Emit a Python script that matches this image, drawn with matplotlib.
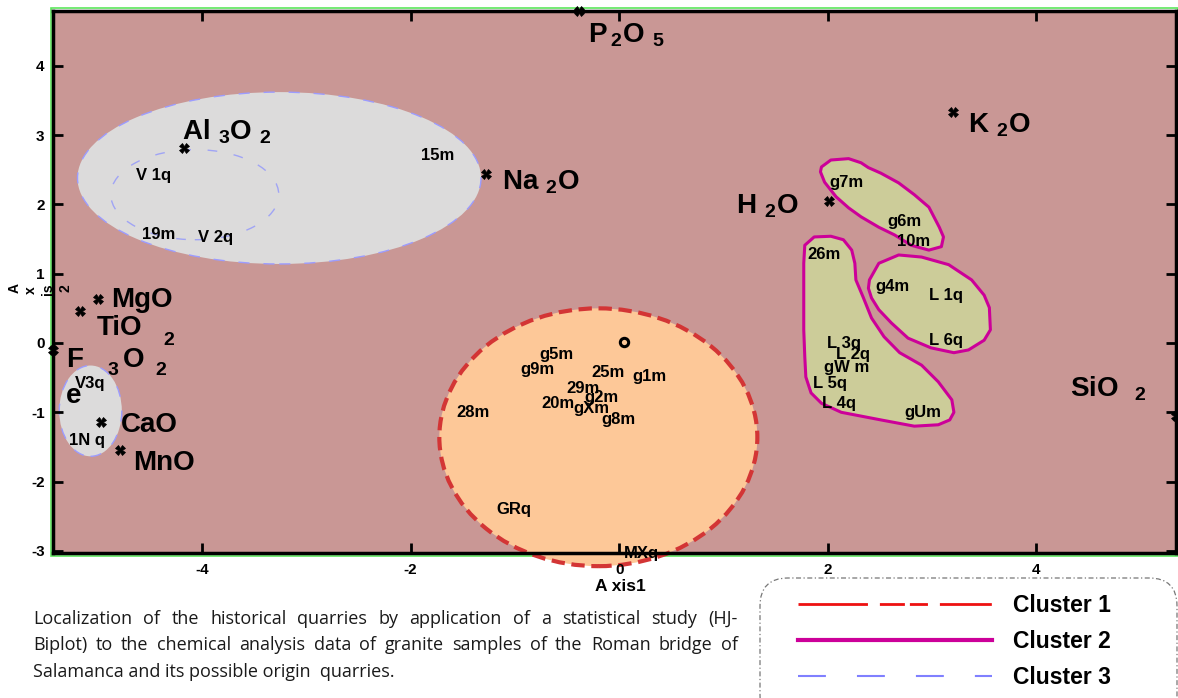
import matplotlib
matplotlib.use("Agg")
import matplotlib.pyplot as plt
from matplotlib.patches import Ellipse, Polygon, FancyBboxPatch, Rectangle
from matplotlib.lines import Line2D

plt.rcParams['font.family'] = ['Liberation Sans', 'DejaVu Sans']
plt.rcParams['axes.unicode_minus'] = False
plt.rcParams['mathtext.fontset'] = 'custom'
plt.rcParams['mathtext.rm'] = 'Liberation Sans:bold'
plt.rcParams['mathtext.it'] = 'Liberation Sans:bold'
plt.rcParams['mathtext.bf'] = 'Liberation Sans:bold'

# --- variables (biplot loadings) ---
var_names = ["P2O5", "Al3O2", "Na2O", "H2O", "K2O", "MgO", "TiO2", "Fe3O2", "SiO2", "CaO", "MnO"]
var_x = [-0.39, -4.17, -1.28, 2.01, 3.20, -5.00, -5.17, -5.43, 5.34, -4.97, -4.79]
var_y = [4.79, 2.81, 2.44, 2.05, 3.33, 0.64, 0.46, -0.10, -1.05, -1.14, -1.54]

# --- samples (quarries "q" and bridge "m") ---
obs_names = ["V 1q", "15m", "19m", "V 2q", "V3q", "1N q",
             "g5m", "g9m", "25m", "g1m", "29m", "g2m", "20m", "gXm", "g8m", "28m", "GRq", "MXq",
             "g7m", "g6m", "10m", "26m", "g4m", "L 1q", "L 6q", "L 3q", "L 2q", "gW m", "L 5q", "L 4q", "gUm"]
obs_x = [-4.47, -1.74, -4.42, -3.87, -5.07, -5.10,
         -0.60, -0.78, -0.11, 0.29, -0.35, -0.17, -0.59, -0.27, -0.01, -1.40, -1.01, 0.21,
         2.18, 2.74, 2.82, 1.96, 2.62, 3.13, 3.13, 2.16, 2.24, 2.18, 2.02, 2.11, 2.91]
obs_y = [2.42, 2.71, 1.57, 1.52, -0.59, -1.40,
         -0.16, -0.38, -0.42, -0.49, -0.65, -0.78, -0.87, -0.95, -1.10, -1.01, -2.40, -3.04,
         2.32, 1.75, 1.47, 1.28, 0.82, 0.68, 0.03, -0.01, -0.17, -0.36, -0.59, -0.88, -1.01]

origin_x = [0.05]
origin_y = [0.01]

# --- cluster outlines ---
# cluster 1: ellipse (cx, cy, w, h)
c1_ellipse = (-0.20, -1.36, 3.05, 3.72)
# cluster 3: big ellipse, inner dashed ellipse, small ellipse
c3_big = (-3.26, 2.38, 3.87, 2.48)
c3_inner = (-4.07, 2.14, 1.61, 1.30)
c3_small = (-5.07, -0.98, 0.60, 1.31)
# cluster 2: three hand drawn regions
c2a_x = [1.94, 2.03, 2.20, 2.32, 2.39, 2.51, 2.68, 2.83, 2.97, 3.07, 3.11, 3.09, 2.97, 2.80,
         2.64, 2.49, 2.32, 2.20, 2.08, 1.97, 1.93]
c2a_y = [2.54, 2.64, 2.66, 2.60, 2.53, 2.45, 2.31, 2.14, 1.96, 1.67, 1.53, 1.39, 1.34, 1.41,
         1.56, 1.67, 1.82, 1.95, 2.11, 2.32, 2.47]
c2b_x = [1.78, 1.87, 2.03, 2.15, 2.23, 2.26, 2.27, 2.34, 2.42, 2.54, 2.69, 2.90, 3.06, 3.19,
         3.21, 3.17, 3.06, 2.83, 2.51, 2.13, 1.94, 1.84, 1.79, 1.78, 1.77, 1.77, 1.77]
c2b_y = [1.41, 1.53, 1.54, 1.49, 1.34, 1.15, 0.91, 0.66, 0.36, 0.09, -0.14, -0.32, -0.56, -0.82,
         -1.00, -1.11, -1.18, -1.20, -1.11, -1.00, -0.87, -0.72, -0.49, -0.20, 0.19, 0.66, 1.15]
c2c_x = [2.40, 2.49, 2.68, 2.90, 3.16, 3.38, 3.50, 3.55, 3.56, 3.50, 3.35, 3.21, 2.99, 2.77,
         2.61, 2.49, 2.42, 2.39]
c2c_y = [0.91, 1.15, 1.27, 1.24, 1.13, 0.91, 0.69, 0.51, 0.19, 0.04, -0.10, -0.14, -0.07, 0.07,
         0.29, 0.48, 0.65, 0.79]

legend_labels = ["Cluster 1", "Cluster 2", "Cluster 3"]

caption = ["Localization of the historical quarries by application of a statistical study (HJ-",
           "Biplot) to the chemical analysis data of granite samples of the Roman bridge of",
           "Salamanca and its possible origin  quarries."]

# label pieces for each variable: (text, dx pt, dy pt, size, ha)
var_label_parts = {
    "P2O5": [(r"$P\,{}_2O\ {}_5$", 7, -23, 20, "left")],
    "Al3O2": [(r"$Al\ {}_3O\ {}_2$", -2, 6, 20, "left")],
    "Na2O": [(r"$Na\ {}_2O$", 12, -11.5, 20, "left")],
    "H2O": [(r"$H\ {}_2O$", -21.5, -9.4, 20, "right")],
    "K2O": [(r"$K\ {}_2O$", 10.8, -14.4, 20, "left")],
    "MgO": [("MgO", 9.4, -5.8, 20, "left")],
    "TiO2": [("TiO", 12.2, -17.3, 20, "left"), ("2", 60, -24.5, 14, "left")],
    "Fe3O2": [("F", 9.4, -12.2, 20, "left"), ("e", 9.4, -38, 20, "left"),
              ("3", 39.6, -18, 14, "left"), ("O", 50.4, -12.2, 20, "left"),
              ("2", 74, -18, 14, "left")],
    "SiO2": [(r"$SiO\ \ {}_2$", -76, 13.7, 20, "left")],
    "CaO": [("CaO", 14.4, -7.2, 20, "left")],
    "MnO": [("MnO", 9.4, -14.4, 20, "left")],
}

W, H = 1178, 698
fig = plt.figure(figsize=(W / 100, H / 100), dpi=100)
ax = fig.add_axes([53 / W, 1 - 553 / H, (1176 - 53) / W, (553 - 11) / H])
ax.set_facecolor('#C99795')
ax.set_xlim(-5.43, 5.34)
ax.set_ylim(-3.03, 4.79)

# cluster 3 (grey ellipses, blue dashed edge)
for cx, cy, w, h in [c3_big, c3_small]:
    ax.add_patch(Ellipse((cx, cy), w, h, facecolor='#DCDBDB', edgecolor='#9C9CFF',
                         lw=1, linestyle=(0, (8, 10)), zorder=1))
ax.add_patch(Ellipse(c3_inner[:2], c3_inner[2], c3_inner[3], facecolor='none',
                     edgecolor='#A0A4F5', lw=1, linestyle=(0, (7, 12)), zorder=1))

# cluster 1 (peach ellipse, red dashed edge, spills over bottom axis)
ax.add_patch(Ellipse(c1_ellipse[:2], c1_ellipse[2], c1_ellipse[3], facecolor='#FDC898',
                     edgecolor='#D33535', lw=3, linestyle=(0, (3.2, 1.6)), zorder=1,
                     clip_on=False))

# cluster 2 (khaki regions, magenta edge)
for px, py in [(c2a_x, c2a_y), (c2b_x, c2b_y), (c2c_x, c2c_y)]:
    ax.add_patch(Polygon(list(zip(px, py)), closed=True, facecolor='#CCCC99',
                         edgecolor='#CC0099', lw=2.2, joinstyle='round', zorder=1))

# sample labels
for name, x, y in zip(obs_names, obs_x, obs_y):
    ax.text(x, y, name, fontsize=12, fontweight='bold', ha='center', va='center',
            zorder=3, clip_on=False)

# variable markers and labels
ax.plot(var_x, var_y, 'X', color='black', ms=7, mew=0.5, zorder=4, clip_on=False, ls='none')
for name, x, y in zip(var_names, var_x, var_y):
    for s, dx, dy, size, ha in var_label_parts[name]:
        ax.annotate(s, (x, y), xytext=(dx, dy), textcoords='offset points', ha=ha,
                    va='baseline', fontsize=size, fontweight='bold', zorder=5,
                    annotation_clip=False)

ax.plot(origin_x, origin_y, 'o', mfc='none', mec='black', ms=6, mew=2.2, zorder=4)

# axes styling
ax.set_xticks([-4, -2, 0, 2, 4])
ax.set_yticks([-3, -2, -1, 0, 1, 2, 3, 4])
ax.tick_params(direction='in', length=7, width=2, top=True, right=True, labelsize=11)
ax.tick_params(axis='x', pad=7)
ax.tick_params(axis='y', pad=6)
for lbl in ax.get_xticklabels() + ax.get_yticklabels():
    lbl.set_fontweight('bold')
for sp in ax.spines.values():
    sp.set_linewidth(2.5)
    sp.set_color('black')

# thin green frame just outside the black spines
fig.add_artist(Rectangle((51 / W, 1 - 556 / H), (1177.5 - 51) / W, (556 - 8) / H,
                         transform=fig.transFigure, fill=False, edgecolor='#5CE65C',
                         lw=1.2, zorder=0))

ax.set_xlabel("A xis1", fontsize=12.5, fontweight='bold')
ax.xaxis.set_label_coords((620 - 53) / (1176 - 53), -(579 - 553) / (553 - 11))

# broken "Axis 2" label
for s, px, py in [("A", 15, 288), ("x", 31, 290), ("is", 48, 289), ("2", 65, 288)]:
    fig.text(px / W, 1 - py / H, s, rotation=90, fontsize=10, fontweight='bold',
             ha='center', va='center')

# caption, justified between x=33 and x=738 except the last line
renderer = fig.canvas.get_renderer()
cap_left, cap_right = 33, 738
for i, line in enumerate(caption):
    y = 1 - (619 + 26.5 * i) / H
    if i == len(caption) - 1:
        fig.text(cap_left / W, y, line, fontsize=13, family='Open Sans',
                 color='#1a1a1a', ha='left', va='center')
        continue
    words = line.split()
    arts = [fig.text(0, y, w_, fontsize=13, family='Open Sans', color='#1a1a1a',
                     ha='left', va='center') for w_ in words]
    widths = [a.get_window_extent(renderer).width for a in arts]
    gap = (cap_right - cap_left - sum(widths)) / (len(words) - 1)
    xpos = cap_left
    for a, wd in zip(arts, widths):
        a.set_x(xpos / W)
        xpos += wd + gap

# legend box
fig.add_artist(FancyBboxPatch((7.60, -0.25), 4.17, 1.45,
                              boxstyle="round,pad=0,rounding_size=0.28",
                              transform=fig.dpi_scale_trans, facecolor='white',
                              edgecolor='#777777', lw=0.9, linestyle=(0, (4, 2, 1, 2)),
                              clip_on=False, zorder=1))
handles = [Line2D([], [], color='#EE1111', lw=2, linestyle=(0, (25, 4.3, 9, 1.8, 6.5, 4.3, 18.7))),
           Line2D([], [], color='#CC0099', lw=3),
           Line2D([], [], color='#8080FF', lw=1.5, linestyle=(0, (13.4, 14.9)))]
leg = fig.legend(handles, legend_labels, loc='upper left',
                 bbox_to_anchor=(798 / W, 1 - 594 / H), frameon=False, borderpad=0,
                 borderaxespad=0, handlelength=8.47, handletextpad=0.9, labelspacing=0.56,
                 prop={'size': 16.5, 'weight': 'bold'})
leg.set_zorder(2)

fig.savefig('out.png', dpi=100)
